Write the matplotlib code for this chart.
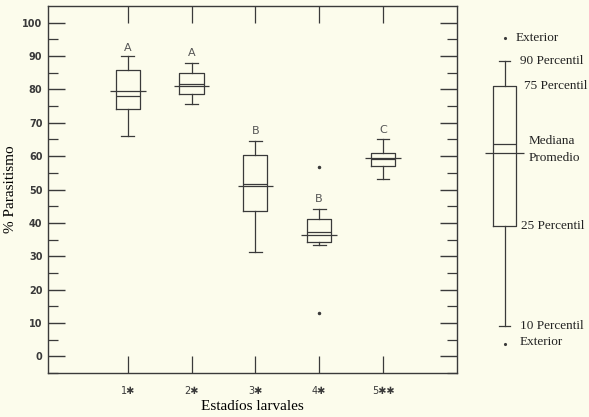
import numpy as np
import matplotlib
matplotlib.use('Agg')
import matplotlib.pyplot as plt

# data
stages = ['1\u2731', '2\u2731', '3\u2731', '4\u2731', '5\u2731\u2731']
p10 = [66.0, 75.6, 31.3, 33.3, 53.2]
q1 = [74.0, 78.6, 43.5, 34.2, 57.1]
medians = [78.0, 81.7, 51.5, 37.2, 59.0]
means = [79.6, 81.1, 50.9, 36.3, 59.3]
q3 = [85.9, 84.9, 60.4, 41.2, 61.0]
p90 = [89.9, 87.8, 64.5, 44.2, 65.0]
outliers = [[], [], [], [56.6, 13.1], []]
letters = ['A', 'A', 'B', 'B', 'C']
letter_y = [92.5, 91.0, 67.4, 47.2, 67.8]

# schematic box used as key on the right
key_vals = {'p10': 9.1, 'q1': 39.2, 'med': 63.7, 'mean': 60.8,
            'q3': 80.9, 'p90': 88.6, 'out_hi': 95.5, 'out_lo': 3.6}

bg = '#fcfcec'
ink = '#3a3a3a'

fig = plt.figure(figsize=(5.89, 4.17), dpi=100, facecolor=bg)
ax = fig.add_axes([48 / 589, 44 / 417, 409 / 589, 367 / 417], facecolor=bg)

pos = np.arange(1, 6)
stats = [dict(med=medians[i], q1=q1[i], q3=q3[i], whislo=p10[i], whishi=p90[i],
              fliers=outliers[i]) for i in range(5)]
ax.bxp(stats, positions=pos, widths=0.38, capwidths=0.2,
       boxprops=dict(color=ink, lw=0.9), medianprops=dict(color=ink, lw=0.9),
       whiskerprops=dict(color=ink, lw=0.9), capprops=dict(color=ink, lw=0.9),
       flierprops=dict(marker='.', markersize=3, markerfacecolor=ink, markeredgecolor=ink))
ax.hlines(means, pos - 0.28, pos + 0.28, colors=ink, lw=0.9)
for x, y, s in zip(pos, letter_y, letters):
    ax.text(x, y, s, ha='center', va='center', fontsize=8, color='#555555')

ax.set_xlim(-0.25, 6.16)
ax.set_ylim(-5, 105)
ax.set_xticks(pos)
ax.set_xticklabels(stages, fontsize=7, color=ink)
ax.set_yticks(np.arange(0, 101, 10))
ax.set_yticks(np.arange(-5, 105, 10), minor=True)
ax.tick_params(axis='y', which='major', direction='in', length=12, width=1.0,
               right=True, labelsize=7, labelcolor=ink, color=ink, pad=4)
ax.tick_params(axis='y', which='minor', direction='in', length=7, width=0.9,
               right=True, color=ink)
ax.tick_params(axis='x', which='major', direction='in', length=12, width=0.9,
               top=True, color=ink, pad=9)
ax.tick_params(axis='x', which='minor', bottom=False, top=False)
for lab in ax.get_yticklabels():
    lab.set_fontweight('bold')
for sp in ax.spines.values():
    sp.set_color(ink)
    sp.set_linewidth(1.0)

ax.set_xlabel('Estadíos larvales', family='Liberation Serif', fontsize=11, labelpad=3)
ax.set_ylabel('% Parasitismo', family='Liberation Serif', fontsize=11, labelpad=4)

# key box
kax = fig.add_axes([470 / 589, 44 / 417, 119 / 589, 367 / 417])
kax.set_xlim(0, 1)
kax.set_ylim(-5, 105)
kax.axis('off')
kx = 0.29
kax.bxp([dict(med=key_vals['med'], q1=key_vals['q1'], q3=key_vals['q3'],
              whislo=key_vals['p10'], whishi=key_vals['p90'], fliers=[])],
        positions=[kx], widths=0.2, capwidths=0.1,
        boxprops=dict(color=ink, lw=0.9), medianprops=dict(color=ink, lw=0.9),
        whiskerprops=dict(color=ink, lw=0.9), capprops=dict(color=ink, lw=0.9))
kax.hlines(key_vals['mean'], kx - 0.16, kx + 0.16, colors=ink, lw=0.9)
kax.plot([kx, kx], [key_vals['out_hi'], key_vals['out_lo']], ls='none',
         marker='.', markersize=2.5, color=ink)

tkw = dict(family='Liberation Serif', fontsize=9.5, color='#222222', va='center')
kax.text(0.38, key_vals['out_hi'], 'Exterior', **tkw)
kax.text(0.42, key_vals['p90'], '90 Percentil', **tkw)
kax.text(0.45, key_vals['q3'], '75 Percentil', **tkw)
kax.text(0.49, key_vals['med'] + 0.8, 'Mediana', **tkw)
kax.text(0.49, key_vals['mean'] - 1.4, 'Promedio', **tkw)
kax.text(0.43, key_vals['q1'], '25 Percentil', **tkw)
kax.text(0.42, key_vals['p10'], '10 Percentil', **tkw)
kax.text(0.42, key_vals['out_lo'] + 0.6, 'Exterior', **tkw)

fig.savefig('out.png', dpi=100, facecolor=bg)
